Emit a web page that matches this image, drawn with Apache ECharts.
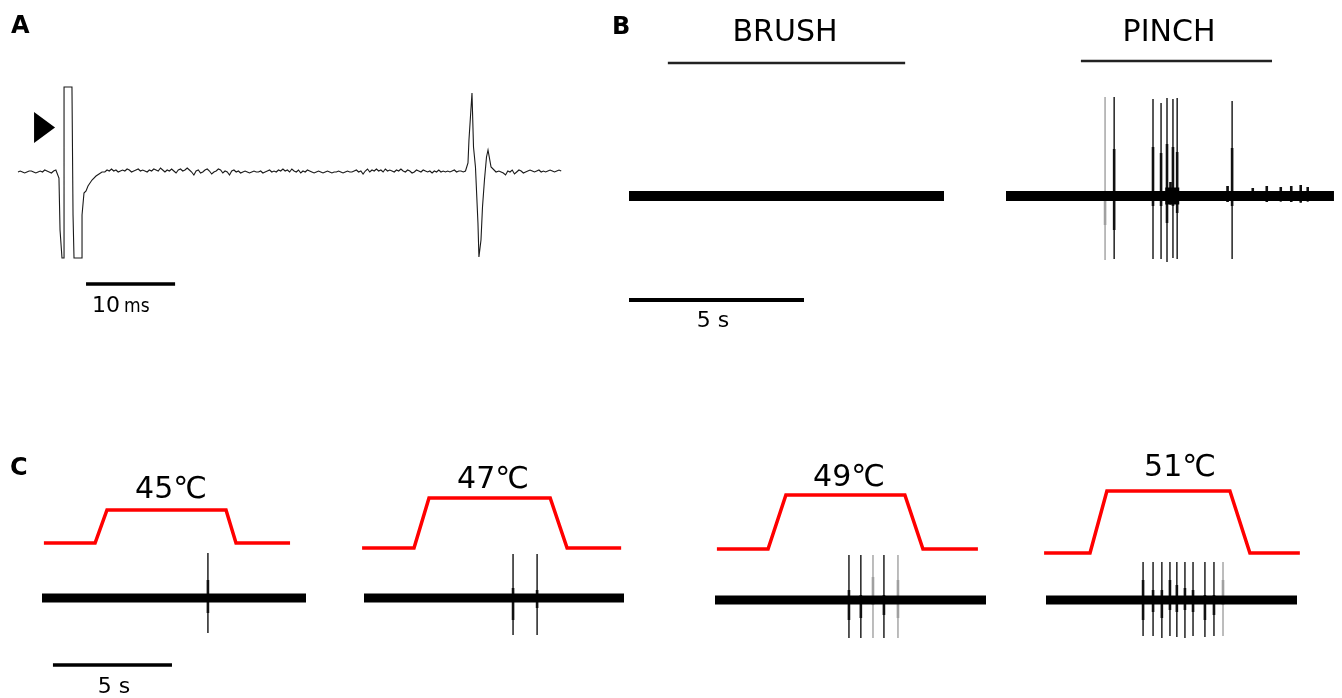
<!DOCTYPE html>
<html>
<head>
<meta charset="utf-8">
<script src="https://cdn.jsdelivr.net/npm/echarts@6/dist/echarts.min.js"></script>
<style>
  html, body { margin: 0; padding: 0; background: #fff; }
  #chart { width: 1342px; height: 698px; }
</style>
</head>
<body>
<div id="chart"></div>
<script>
// ---------- A : single unit, time in ms, amplitude in arbitrary units ----------
var traceAStep = 0.25;
// baseline noise, hundredths of a unit, one value every 0.25 ms
var traceANoise = [
  0, 1, 0, -1, 0, 1, 1, 0, -1, 0, 1, 0, 2, 1, 0, -1, 1, 2, 0, -1,
  0, 0, 0, 0, 0, 0, 0, 0, 0, 0, 0, 0, 0, 0, 0, 0, 0, 0, 1, 0,
  2, 1, 3, 1, 2, 0, 1, 2, 1, 3, 2, 0, 1, 2, 3, 1, 2, 1, 0, 2,
  1, 3, 2, 1, 4, 2, 0, 2, 1, 3, 1, -1, 2, 3, 1, 2, 4, 2, 0, -3,
  1, 2, -1, 0, 2, 3, 1, -2, 0, 1, 3, 2, -1, 1, 0, -3, 1, 2, 0, 1,
  -1, 0, 1, 0, -1, 0, 1, 0, 0, 1, -1, 0, 1, 2, 0, 1, 0, 2, 1, 3,
  1, 2, 0, 3, 1, 0, 2, -1, 1, 0, 2, 1, 0, -1, 0, 1, 0, -1, 0, 1,
  0, -1, 0, 0, 1, 0, -1, 0, 1, 0, 0, 1, 2, 0, 1, -2, 1, 3, 0, 2,
  1, 3, 1, 2, 0, 3, 1, 2, 1, 0, 2, 1, 3, 1, 0, 2, 1, -1, 0, 2,
  1, 0, 2, 1, 0, 1, -1, 1, 0, 2, 0, 1, 0, 1, 0, 1, 2, 0, 1, 1,
  0, 1, 0, 0, 0, 0, 0, 0, 0, 0, 0, 0, 0, 0, 0, 0, 1, 0, -1, -3,
  1, 0, 2, -2, 0, 2, 1, -1, 0, 1, 2, 1, 0, 1, 2, 0, 1, 0, 1, 2,
  1, 0, 1, 2, 1
];
// stimulus artifact  [ms, amplitude]
var traceAArtifact = [
  [4.38, -0.01], [4.60, -0.06], [4.72, -0.58], [4.94, -0.86], [5.17, -0.86],
  [5.17, 0.85], [6.06, 0.85], [6.18, -0.43], [6.29, -0.86], [7.19, -0.86],
  [7.19, -0.43], [7.41, -0.21], [7.64, -0.19], [7.86, -0.14], [8.08, -0.13],
  [8.31, -0.08], [8.53, -0.09], [8.76, -0.04], [9.1, -0.02], [9.43, 0.0]
];
// evoked spike  [ms, amplitude]
var traceASpike = [
  [50.31, 0.02], [50.53, 0.09], [50.64, 0.32], [50.98, 0.79], [51.15, 0.25],
  [51.37, 0.05], [51.65, -0.51], [51.76, -0.85], [51.99, -0.68], [52.16, -0.35],
  [52.38, -0.08], [52.61, 0.15], [52.78, 0.22], [53.12, 0.05], [53.68, 0.0]
];
var stimArrowA = [[2.98, 0.445]];
var scaleBarA = [[7.64, -1.12], [17.64, -1.12]];   // 10 ms

// ---------- B : brush / pinch, time in s ----------
var brushDuration = 9.0;
var pinchDuration = 9.37;
var brushStim = [[1.11, 1.33], [7.89, 1.33]];
var pinchStim = [[2.14, 1.35], [7.6, 1.35]];
var scaleBarB = [[0, -1.04], [5, -1.04]];          // 5 s
var pinchSpikeT      = [2.83, 3.09, 4.20, 4.43, 4.60, 4.77, 4.89, 6.46];
var pinchSpikeTop    = [0.99, 0.99, 0.97, 0.93, 0.98, 0.97, 0.98, 0.95];
var pinchSpikeBottom = [-0.64, -0.63, -0.63, -0.63, -0.66, -0.62, -0.63, -0.63];
var pinchCoreTop     = [0.05, 0.47, 0.49, 0.43, 0.52, 0.49, 0.44, 0.48];
var pinchCoreBottom  = [-0.29, -0.34, -0.1, -0.1, -0.27, -0.1, -0.17, -0.1];
var pinchShade       = [1, 0, 0, 0, 0, 0, 0, 0];
// small units riding on the band after the pinch
var pinchSmallT   = [4.70, 6.33, 7.05, 7.45, 7.85, 8.15, 8.42, 8.62];
var pinchSmallTop = [0.14, 0.10, 0.08, 0.10, 0.09, 0.10, 0.11, 0.09];
var pinchBurst = [[4.55, 0], [4.95, 0]];

// ---------- C : heat steps, time in s ----------
var heatLabels = ['45℃', '47℃', '49℃', '51℃'];
var heatDuration = [11.09, 10.92, 11.39, 10.55];
var heatStim = [
  [[0.08, 0.55], [2.23, 0.55], [2.73, 0.88], [7.73, 0.88], [8.15, 0.55], [10.42, 0.55]],
  [[-0.08, 0.50], [2.10, 0.50], [2.73, 1.00], [7.82, 1.00], [8.53, 0.50], [10.8, 0.50]],
  [[0.08, 0.51], [2.23, 0.51], [2.98, 1.05], [7.98, 1.05], [8.74, 0.51], [11.05, 0.51]],
  [[-0.08, 0.47], [1.85, 0.47], [2.56, 1.09], [7.73, 1.09], [8.57, 0.47], [10.67, 0.47]]
];
var heatSpikeT = [
  [6.97],
  [6.26, 7.27],
  [5.63, 6.13, 6.64, 7.10, 7.69],
  [4.08, 4.50, 4.87, 5.21, 5.50, 5.84, 6.18, 6.68, 7.06, 7.44]
];
var heatSpikeTop = [
  [0.45],
  [0.44, 0.44],
  [0.45, 0.45, 0.45, 0.45, 0.45],
  [0.38, 0.38, 0.38, 0.38, 0.38, 0.38, 0.38, 0.38, 0.38, 0.38]
];
var heatSpikeBottom = [
  [-0.35],
  [-0.37, -0.37],
  [-0.38, -0.38, -0.38, -0.38, -0.38],
  [-0.36, -0.36, -0.38, -0.36, -0.37, -0.38, -0.36, -0.37, -0.36, -0.36]
];
var heatCoreTop = [
  [0.18],
  [0.1, 0.08],
  [0.1, 0.05, 0.23, 0.05, 0.2],
  [0.2, 0.1, 0.1, 0.2, 0.15, 0.12, 0.1, 0.05, 0.05, 0.2]
];
var heatCoreBottom = [
  [-0.15],
  [-0.22, -0.1],
  [-0.2, -0.18, -0.05, -0.15, -0.18],
  [-0.2, -0.12, -0.18, -0.1, -0.12, -0.1, -0.12, -0.2, -0.15, -0.05]
];
var heatShade = [
  [0],
  [0, 0],
  [0, 0, 1, 0, 1],
  [0, 0, 0, 0, 0, 0, 0, 0, 0, 1]
];
var scaleBarC = [[0.46, -0.67], [5.46, -0.67]];     // 5 s

// ---------- layout ----------
var FONT = '"DejaVu Sans", sans-serif';
var gridA = { left: 18, top: 60, width: 545, height: 240 };
var gridsB = [
  { left: 629, top: 40, width: 315, height: 280 },
  { left: 1006, top: 40, width: 328, height: 280 }
];
var gridsC = [
  { left: 42, top: 450, width: 264, height: 240, base: 598 },
  { left: 364, top: 450, width: 260, height: 240, base: 598 },
  { left: 715, top: 450, width: 271, height: 240, base: 600 },
  { left: 1046, top: 450, width: 251, height: 240, base: 600 }
];
var heatLabelPos = [[171, 490], [493, 480], [849, 478], [1180, 468]];

function buildTraceA() {
  var pts = [];
  for (var i = 0; i < traceANoise.length; i++) {
    var t = i * traceAStep;
    if (t > 4.3 && t < 9.45) continue;
    if (t > 50.25 && t < 53.7) continue;
    pts.push([t, traceANoise[i] / 100]);
  }
  pts = pts.concat(traceAArtifact, traceASpike);
  pts.sort(function (a, b) { return a[0] - b[0]; });
  return pts;
}

function spikeData(t, top, bottom, ct, cb, shade) {
  var out = [];
  for (var i = 0; i < t.length; i++) out.push([t[i], bottom[i], top[i], cb[i], ct[i], shade[i]]);
  return out;
}

function smallSpikeData(t, top) {
  var out = [];
  for (var i = 0; i < t.length; i++) out.push([t[i], -top[i] * 0.6, top[i], -top[i] * 0.6, top[i], 0]);
  return out;
}

function renderSpike(params, api) {
  var x = api.value(0);
  var p1 = api.coord([x, api.value(1)]);
  var p2 = api.coord([x, api.value(2)]);
  var p3 = api.coord([x, api.value(3)]);
  var p4 = api.coord([x, api.value(4)]);
  var col = api.value(5) ? '#a0a0a0' : '#111';
  return {
    type: 'group',
    children: [
      { type: 'line', shape: { x1: p1[0], y1: p1[1], x2: p2[0], y2: p2[1] }, style: { stroke: col, lineWidth: 1.4 } },
      { type: 'line', shape: { x1: p3[0], y1: p3[1], x2: p4[0], y2: p4[1] }, style: { stroke: col, lineWidth: 2.6 } }
    ]
  };
}

function lineSeries(idx, data, color, width) {
  return {
    type: 'line', xAxisIndex: idx, yAxisIndex: idx, data: data,
    showSymbol: false, symbol: 'none', clip: false, silent: true,
    lineStyle: { color: color, width: width, cap: 'butt', join: 'miter' }
  };
}

var grid = [], xAxis = [], yAxis = [], series = [];
function addGrid(g, xmin, xmax, ymin, ymax) {
  grid.push({ left: g.left, top: g.top, width: g.width, height: g.height });
  var i = grid.length - 1;
  xAxis.push({ type: 'value', gridIndex: i, min: xmin, max: xmax, show: false });
  yAxis.push({ type: 'value', gridIndex: i, min: ymin, max: ymax, show: false });
  return i;
}

// A
var ia = addGrid(gridA, 0, 61.2, -1.28, 1.12);
series.push(lineSeries(ia, buildTraceA(), '#1a1a1a', 1.1));
series.push(lineSeries(ia, scaleBarA, '#000', 3.5));
series.push({
  type: 'scatter', xAxisIndex: ia, yAxisIndex: ia, data: stimArrowA, silent: true,
  symbol: 'triangle', symbolSize: [31, 21], symbolRotate: -90,
  itemStyle: { color: '#000', opacity: 1 }
});

// B
var ib1 = addGrid(gridsB[0], 0, 9.0, -1.24, 1.56);
var ib2 = addGrid(gridsB[1], 0, 9.371, -1.24, 1.56);
series.push(lineSeries(ib1, [[0, 0], [brushDuration, 0]], '#000', 10));
series.push(lineSeries(ib1, brushStim, '#222', 2.5));
series.push(lineSeries(ib1, scaleBarB, '#000', 4));
series.push(lineSeries(ib2, [[0, 0], [pinchDuration, 0]], '#000', 10));
series.push(lineSeries(ib2, pinchBurst, '#000', 17));
series.push(lineSeries(ib2, pinchStim, '#222', 2.5));
series.push({
  type: 'custom', xAxisIndex: ib2, yAxisIndex: ib2, silent: true,
  data: spikeData(pinchSpikeT, pinchSpikeTop, pinchSpikeBottom, pinchCoreTop, pinchCoreBottom, pinchShade)
    .concat(smallSpikeData(pinchSmallT, pinchSmallTop)),
  encode: { x: 0, y: [1, 2] }, renderItem: renderSpike
});

// C
var graphics = [];
for (var c = 0; c < gridsC.length; c++) {
  var g = gridsC[c];
  var ymax = (g.base - g.top) / 100;
  var ymin = -(g.top + g.height - g.base) / 100;
  var ic = addGrid(g, 0, heatDuration[c], ymin, ymax);
  series.push(lineSeries(ic, [[0, 0], [heatDuration[c], 0]], '#000', 9));
  series.push({
    type: 'custom', xAxisIndex: ic, yAxisIndex: ic, silent: true,
    data: spikeData(heatSpikeT[c], heatSpikeTop[c], heatSpikeBottom[c], heatCoreTop[c], heatCoreBottom[c], heatShade[c]),
    encode: { x: 0, y: [1, 2] }, renderItem: renderSpike
  });
  series.push(lineSeries(ic, heatStim[c], '#ff0000', 3.5));
  if (c === 0) series.push(lineSeries(ic, scaleBarC, '#000', 3.5));
  graphics.push({
    type: 'text', x: heatLabelPos[c][0], y: heatLabelPos[c][1],
    style: { text: heatLabels[c], font: '30px ' + FONT, fill: '#000', align: 'center', verticalAlign: 'middle', textAlign: 'center', textVerticalAlign: 'middle' }
  });
}

function label(text, x, y, size, bold, align) {
  return {
    type: 'text', x: x, y: y,
    style: {
      text: text, font: (bold ? 'bold ' : '') + size + 'px ' + FONT, fill: '#000',
      align: align || 'center', verticalAlign: 'middle',
      textAlign: align || 'center', textVerticalAlign: 'middle'
    }
  };
}
graphics.push(label('A', 11, 27, 24, true, 'left'));
graphics.push(label('B', 612, 28, 24, true, 'left'));
graphics.push(label('C', 10, 469, 24, true, 'left'));
graphics.push(label('BRUSH', 785, 33, 30));
graphics.push(label('PINCH', 1169, 33, 30));
graphics.push(label('10', 92, 306, 22, false, 'left'));
graphics.push({
  type: 'text', x: 124, y: 307,
  style: { text: 'ms', font: '19px "DejaVu Sans Condensed", "DejaVu Sans", sans-serif', fill: '#000', align: 'left', verticalAlign: 'middle', textAlign: 'left', textVerticalAlign: 'middle' }
});
graphics.push(label('5 s', 713, 321, 22));
graphics.push(label('5 s', 114, 687, 22));

var chart = echarts.init(document.getElementById('chart'), null, { renderer: 'canvas' });
chart.setOption({
  backgroundColor: '#fff',
  animation: false,
  grid: grid,
  xAxis: xAxis,
  yAxis: yAxis,
  series: series,
  graphic: graphics
});
</script>
</body>
</html>
